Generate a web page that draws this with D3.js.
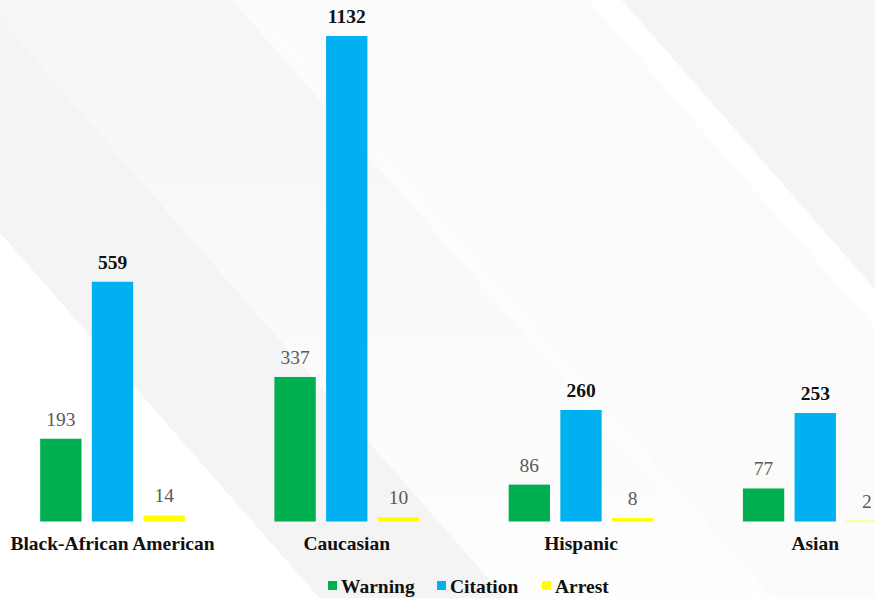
<!DOCTYPE html>
<html>
<head>
<meta charset="utf-8">
<script src="https://cdn.jsdelivr.net/npm/d3@7"></script>
<style>
  html, body { margin: 0; padding: 0; background: #f5f5f5; }
  svg { display: block; }
</style>
</head>
<body>
<svg id="chart" width="875" height="598"></svg>
<script>
// Stop outcomes by driver race
const categories = ["Black-African American", "Caucasian", "Hispanic", "Asian"];
const series = ["Warning", "Citation", "Arrest"];
const warning = [193, 337, 86, 77];
const citation = [559, 1132, 260, 253];
const arrest = [14, 10, 8, 2];
const seriesColors = ["#00b050", "#00b0f0", "#ffff00"];

const values = { Warning: warning, Citation: citation, Arrest: arrest };
const rows = categories.map((c, i) => ({
  category: c,
  items: series.map(s => ({ series: s, value: values[s][i] }))
}));

const W = 875, H = 598;
const svg = d3.select("#chart");
const serif = "'Liberation Serif', 'Times New Roman', serif";

// ---- decorative background: soft diagonal light bands ----
const defs = svg.append("defs");
const bg = svg.append("g");
bg.append("rect").attr("width", W).attr("height", H).attr("fill", "#f4f4f4");

const k = 0.875; // horizontal run per unit of vertical drop for the band edges
const edge = (x0, y) => x0 + k * y;

function band(x0a, x0b, fill, opacity) {
  const pts = [[edge(x0a, 0), 0], [edge(x0b, 0), 0], [edge(x0b, H), H], [edge(x0a, H), H]];
  bg.append("path").attr("d", d3.line()(pts) + "Z").attr("fill", fill).attr("opacity", opacity);
}

const g1 = defs.append("linearGradient").attr("id", "fadeDown").attr("x1", 0).attr("y1", 0).attr("x2", 0).attr("y2", 1);
g1.append("stop").attr("offset", "0%").attr("stop-color", "#ffffff").attr("stop-opacity", 0.2);
g1.append("stop").attr("offset", "100%").attr("stop-color", "#ffffff").attr("stop-opacity", 1);

band(245, 618, "#fbfbfb", 1);
band(588, 622, "#ffffff", 0.9);
band(232, 250, "#ffffff", 0.6);
band(-18, 245, "url(#fadeDown)", 0.9);
// lower-left corner wedge
bg.append("path")
  .attr("d", d3.line()([[0, 233], [edge(-204, H), H], [0, H]]) + "Z")
  .attr("fill", "#ffffff");

// ---- scales ----
const x0 = d3.scaleBand().domain(categories).range([-5, 932]).padding(0);
const x1 = d3.scaleBand().domain(series).range([40, 195]).paddingInner(0.2).paddingOuter(0.1);
const color = d3.scaleOrdinal().domain(series).range(seriesColors);
const y = d3.scaleLinear().domain([0, 1132]).range([521.5, 36]);

const groups = svg.append("g").selectAll("g")
  .data(rows).join("g")
  .attr("transform", d => `translate(${x0(d.category)},0)`);

groups.selectAll("rect")
  .data(d => d.items).join("rect")
  .attr("x", d => x1(d.series))
  .attr("width", x1.bandwidth())
  .attr("y", d => y(d.value))
  .attr("height", d => y(0) - y(d.value))
  .attr("fill", d => color(d.series));

groups.selectAll("text.val")
  .data(d => d.items).join("text")
  .attr("class", "val")
  .attr("x", d => x1(d.series) + x1.bandwidth() / 2)
  .attr("y", d => y(d.value) - 13)
  .attr("text-anchor", "middle")
  .attr("font-family", serif)
  .attr("font-size", 19.5)
  .attr("font-weight", d => d.series === "Citation" ? "bold" : "normal")
  .attr("fill", d => d.series === "Citation" ? "#111" : "#595959")
  .text(d => d.value);

// category labels, centred under each group
svg.append("g").selectAll("text")
  .data(categories).join("text")
  .attr("x", d => x0(d) + x1("Citation") + x1.bandwidth() / 2)
  .attr("y", 550)
  .attr("text-anchor", "middle")
  .attr("font-family", serif)
  .attr("font-size", 19.5)
  .attr("font-weight", "bold")
  .attr("fill", "#111")
  .text(d => d);

// ---- legend ----
const legendX = [328, 437, 542];
const legend = svg.append("g").selectAll("g")
  .data(series).join("g")
  .attr("transform", (d, i) => `translate(${legendX[i]},0)`);
legend.append("rect")
  .attr("x", 0).attr("y", 581).attr("width", 9).attr("height", 9)
  .attr("fill", d => color(d));
legend.append("text")
  .attr("x", 13).attr("y", 593)
  .attr("font-family", serif)
  .attr("font-size", 19.5)
  .attr("font-weight", "bold")
  .attr("fill", "#111")
  .text(d => d);
</script>
</body>
</html>
